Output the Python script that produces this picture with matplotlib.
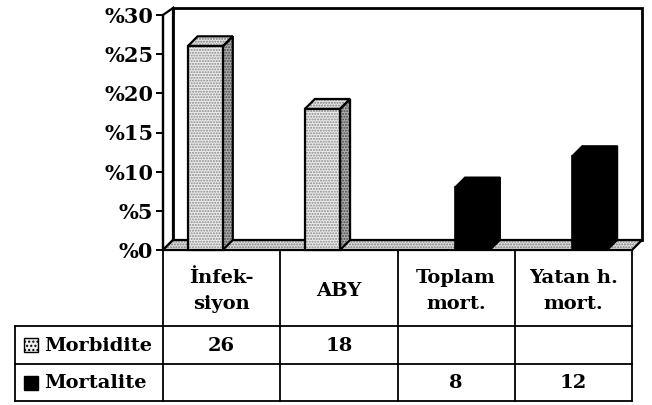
import numpy as np
import matplotlib.pyplot as plt
from matplotlib.patches import Polygon, Rectangle

plt.rcParams["font.family"] = ["DejaVu Serif"]
plt.rcParams["font.weight"] = "bold"

categories = ["İnfek-\nsiyon", "ABY", "Toplam\nmort.", "Yatan h.\nmort."]
series_names = ["Morbidite", "Mortalite"]
morbidite = [26, 18, None, None]
mortalite = [None, None, 8, 12]
y_ticks = [0, 5, 10, 15, 20, 25, 30]

W, H = 652, 405
fig = plt.figure(figsize=(W / 100, H / 100), dpi=100)

# pixel layout of the chart (front plane)
x0, x1, xb = 163, 632, 642
y0, y30, ytop = 250, 15, 8
cw = (x1 - x0) / 4
ppu = (y0 - y30) / 30
dx = 10 / cw
dy = 10 / ppu
ymax = (y0 - ytop) / ppu

# table / overlay axes in pixel coordinates
ov = fig.add_axes([0, 0, 1, 1])
ov.set_xlim(0, W)
ov.set_ylim(H, 0)
ov.axis("off")

ax = fig.add_axes([x0 / W, 1 - y0 / H, (xb - x0) / W, (y0 - ytop) / H])
ax.patch.set_visible(False)
ax.set_xlim(0, 4 + dx)
ax.set_ylim(0, ymax)


def stipple(pts, face, dots, z):
    ax.add_patch(Polygon(pts, closed=True, facecolor=face, edgecolor=dots,
                         hatch="......", lw=0, zorder=z, clip_on=False))
    ax.add_patch(Polygon(pts, closed=True, fill=False, edgecolor="black",
                         lw=1.6, zorder=z + 0.1, clip_on=False))


# walls and floor
ax.add_patch(Polygon([(dx, dy), (4 + dx, dy), (4 + dx, ymax), (dx, ymax)],
                     facecolor="white", edgecolor="black", lw=2, zorder=1, clip_on=False))
ax.add_patch(Polygon([(0, 0), (dx, dy), (dx, ymax), (0, 30)],
                     facecolor="white", edgecolor="black", lw=1.6, zorder=1.2, clip_on=False))
stipple([(0, 0), (4, 0), (4 + dx, dy), (dx, dy)], "#e2e2e2", "#777777", 2)

# bars
offsets = [0.21, 0.49]
bw = 0.30
for s, vals in enumerate([morbidite, mortalite]):
    for i, v in enumerate(vals):
        if v is None:
            continue
        x = i + offsets[s]
        front = [(x, 0), (x + bw, 0), (x + bw, v), (x, v)]
        side = [(x + bw, 0), (x + bw + dx, dy), (x + bw + dx, v + dy), (x + bw, v)]
        top = [(x, v), (x + dx, v + dy), (x + bw + dx, v + dy), (x + bw, v)]
        if s == 0:
            stipple(side, "#b0b0b0", "#444444", 3)
            stipple(top, "#e8e8e8", "#777777", 3)
            stipple(front, "#ededed", "#888888", 3.5)
        else:
            for pts in (side, top, front):
                ax.add_patch(Polygon(pts, closed=True, facecolor="black",
                                     edgecolor="black", lw=1.2, zorder=3, clip_on=False))

# axes styling
for sp in ["top", "right", "bottom"]:
    ax.spines[sp].set_visible(False)
ax.spines["left"].set_bounds(0, 30)
ax.spines["left"].set_linewidth(1.6)
ax.spines["left"].set_zorder(5)
ax.set_xticks([])
ax.set_yticks(y_ticks)
ax.set_yticklabels([f"%{t}" for t in y_ticks], fontsize=15, fontweight="bold")
ax.tick_params(axis="y", direction="out", length=5, width=1.4, pad=2)

# table
col_x = [x0 + cw * i for i in range(5)]
tab_left = 15
row_y = [326, 364, 401]
lw = 1.3
for cx in col_x:
    ov.plot([cx, cx], [y0, row_y[-1]], color="black", lw=lw)
ov.plot([tab_left, tab_left], [row_y[0], row_y[-1]], color="black", lw=lw)
for ry in row_y:
    ov.plot([tab_left, x1], [ry, ry], color="black", lw=lw)

for i, cat in enumerate(categories):
    cx = (col_x[i] + col_x[i + 1]) / 2
    ov.text(cx, 291, cat, ha="center", va="center",
            fontsize=14, fontweight="bold", linespacing=1.55)

key_styles = [dict(facecolor="#eeeeee", edgecolor="black", hatch="...."),
              dict(facecolor="black", edgecolor="black")]
for r, (name, vals) in enumerate(zip(series_names, [morbidite, mortalite])):
    cy = (row_y[r] + row_y[r + 1]) / 2
    ov.add_patch(Rectangle((24, cy - 7), 14, 14, lw=1, **key_styles[r]))
    ov.text(44, cy + 1, name, ha="left", va="center", fontsize=14, fontweight="bold")
    for i, v in enumerate(vals):
        if v is None:
            continue
        cx = (col_x[i] + col_x[i + 1]) / 2
        ov.text(cx, cy + 1, str(v), ha="center", va="center",
                fontsize=14, fontweight="bold")

fig.savefig("out.png", dpi=100)
